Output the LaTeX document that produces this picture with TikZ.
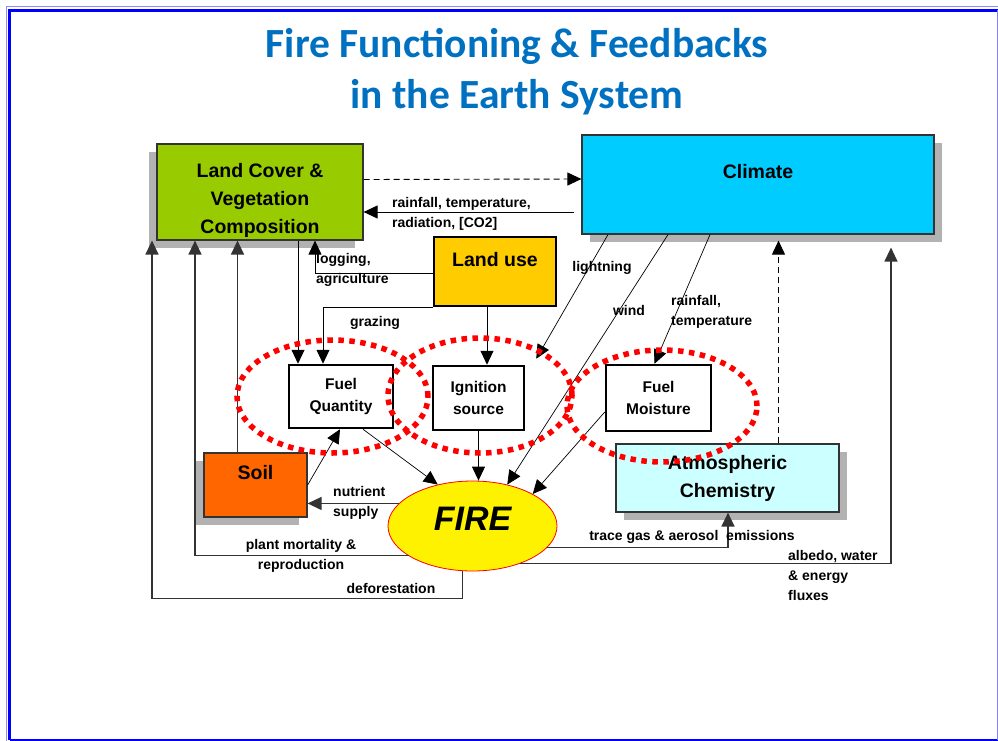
\documentclass[tikz,border=0pt]{standalone}
\usepackage{fontspec}
\setmainfont{Liberation Sans}
\newfontfamily\titlefont{Carlito}
\usetikzlibrary{arrows.meta,shapes.geometric,shadows}

\definecolor{landgreen}{HTML}{99CC00}
\definecolor{climblue}{HTML}{00CCFF}
\definecolor{useorange}{HTML}{FFCC00}
\definecolor{soilorange}{HTML}{FF6600}
\definecolor{atmcyan}{HTML}{CCFFFF}
\definecolor{titleblue}{HTML}{0070C0}
\definecolor{frameblue}{HTML}{0000FF}

\tikzset{
  box/.style={draw, inner sep=0pt, align=center},
  bigbox/.style={box, draw=black!80, line width=1.2pt, font=\bfseries\fontsize{19.5}{28}\selectfont},
  thickbox/.style={box, line width=2.5pt, font=\bfseries\fontsize{15.5}{22}\selectfont},
  boxlbl/.style={font=\bfseries\fontsize{19.5}{28}\selectfont, align=center, inner sep=0pt},
  shadowleft/.style={drop shadow={shadow xshift=-8pt, shadow yshift=-8pt, fill=black!30, opacity=1}},
  shadowright/.style={drop shadow={shadow xshift=8pt, shadow yshift=-8pt, fill=black!30, opacity=1}},
  arr/.style={-{Triangle[length=14pt,width=13pt]}, line width=0.9pt},
  thinarr/.style={arr, line width=0.7pt},
  dasharr/.style={arr, dash pattern=on 6pt off 4pt},
  loopline/.style={arr, draw=black!80, line width=1.3pt},
  lbl/.style={font=\bfseries\fontsize{14}{20}\selectfont, align=left, inner sep=0pt},
  redring/.style={red, line width=5.5pt, dash pattern=on 5.5pt off 5.5pt}
}

\begin{document}
\begin{tikzpicture}[x=1pt,y=-1pt]
  \useasboundingbox (0,0) rectangle (998,741);
  \draw[frameblue!45, line width=1pt] (6,741) |- (998,6.5);
  \draw[frameblue, line width=2.5pt] (9.5,739.5) |- (998,10.5);
  \draw[frameblue, line width=2pt] (9.5,739.5) -- (998,739.5);
  \draw[frameblue!50, line width=1pt] (997,10.5) -- (997,739.5);

  \node[font=\titlefont\bfseries\fontsize{41.5}{51}\selectfont, text=titleblue, align=center] (title) at (517,71.5) {Fire Functioning \& Feedbacks\\in the Earth System};

  \node[bigbox, fill=landgreen, shadowleft, minimum width=206pt, minimum height=96pt,
    label={[boxlbl, yshift=-8.5pt]center:Land Cover \&\\Vegetation\\Composition}] (lcover) at (260,192) {};
  \node[bigbox, fill=climblue, shadowright, minimum width=352pt, minimum height=99pt,
    label={[boxlbl, yshift=12.5pt]center:Climate}] (climate) at (758,184.5) {};
  \node[thickbox, fill=useorange, minimum width=122pt, minimum height=69pt,
    label={[boxlbl, yshift=11.5pt]center:Land use}] (landuse) at (495,271.5) {};
  \node[bigbox, fill=soilorange, shadowleft, minimum width=103pt, minimum height=64pt,
    label={[boxlbl, yshift=12.5pt]center:Soil}] (soil) at (255.5,485) {};
  \node[bigbox, fill=atmcyan, shadowright, minimum width=223pt, minimum height=68pt] (atm) at (727.5,478) {Atmospheric\\Chemistry};
  \node[thickbox, fill=white, minimum width=104pt, minimum height=63pt] (fuelq) at (341,396.5) {Fuel\\Quantity};
  \node[thickbox, fill=white, minimum width=91pt, minimum height=64pt] (ign) at (478.5,398) {Ignition\\source};
  \node[thickbox, fill=white, minimum width=105pt, minimum height=66pt] (fuelm) at (658.5,398) {Fuel\\Moisture};
  \node[ellipse, draw=red, fill=yellow, line width=0.8pt, minimum width=169pt, minimum height=90pt, inner sep=0pt,
    text depth=14pt, font=\bfseries\itshape\fontsize{34}{34}\selectfont] (fire) at (472.5,526) {FIRE};

  \draw[dasharr] ([yshift=12.5pt]lcover.east) -- ([yshift=5.5pt]climate.west);
  \draw[arr, shorten <=7pt] ([yshift=-27.5pt]climate.west) -- ([yshift=-20pt]lcover.east);
  \draw[arr] ([yshift=-2pt]landuse.west) -| ([xshift=55pt]lcover.south);
  \draw[arr] (landuse.south west) -| ([xshift=-18pt]fuelq.north);
  \draw[arr] ([xshift=-8pt]landuse.south) -- ([xshift=8.5pt]ign.north);
  \draw[arr] ([xshift=38pt]lcover.south) -- ([xshift=-43pt]fuelq.north);
  \draw[thinarr] ([xshift=-150pt]climate.south) -- ([xshift=11pt,yshift=6pt]ign.north east);
  \draw[thinarr] ([xshift=-90pt]climate.south) -- (fire.50);
  \draw[thinarr] ([xshift=-48pt]climate.south) -- ([xshift=-4pt]fuelm.north);
  \draw[dasharr, shorten >=6pt] ([xshift=51pt]atm.north) -- ([xshift=20.5pt]climate.south);
  \draw[thinarr] ([xshift=22pt]fuelq.south) -- (fire.130);
  \draw[arr] (ign.south) -- (ign.south |- fire.north);
  \draw[thinarr] ([yshift=-14pt]fuelm.west) -- (fire.28);
  \draw[thinarr] (soil.east) -- ([xshift=-1pt]fuelq.south);
  \draw[loopline] (fire.163) -- (fire.163 -| soil.east);
  \draw[loopline] ([xshift=-18pt]soil.north) -- ([xshift=-22.5pt]lcover.south);
  \draw[loopline] (fire.205) -| ([xshift=-65pt]lcover.south);
  \draw[loopline] ([xshift=-10pt]fire.south) -- ++(0,27) -| ([xshift=-108pt]lcover.south);
  \draw[loopline] (fire.-16) -| ([xshift=0.5pt]atm.south);
  \draw[loopline, shorten >=13pt] (fire.-38) -| ([xshift=133pt]climate.south);

  \draw[redring] (332.5,396.5) ellipse [x radius=95.5pt, y radius=56.5pt];
  \draw[redring] (480,395.5) ellipse [x radius=92pt, y radius=57.5pt];
  \draw[redring] (662,406) ellipse [x radius=95pt, y radius=56pt];

  \node[lbl, anchor=west] (climlab) at (392,214) {rainfall, temperature,\\radiation, [CO2]};
  \node[lbl, anchor=west] (loglab) at (316,270) {logging,\\agriculture};
  \node[lbl] (grazlab) at (375,323) {grazing};
  \node[lbl] (lightlab) at (602,268) {lightning};
  \node[lbl] (windlab) at (629,310) {wind};
  \node[lbl, anchor=west] (rainlab) at (671,312) {rainfall,\\temperature};
  \node[lbl, anchor=west] (nutlab) at (333,503) {nutrient\\supply};
  \node[lbl, align=center] (plantlab) at (301,556) {plant mortality \&\\reproduction};
  \node[lbl] (deflab) at (391,588) {deforestation};
  \node[lbl] (tracelab) at (692,537) {trace gas \& aerosol\ \ emissions};
  \node[lbl, anchor=west] (albedolab) at (788,575) {albedo, water\\\& energy\\fluxes};
\end{tikzpicture}
\end{document}
